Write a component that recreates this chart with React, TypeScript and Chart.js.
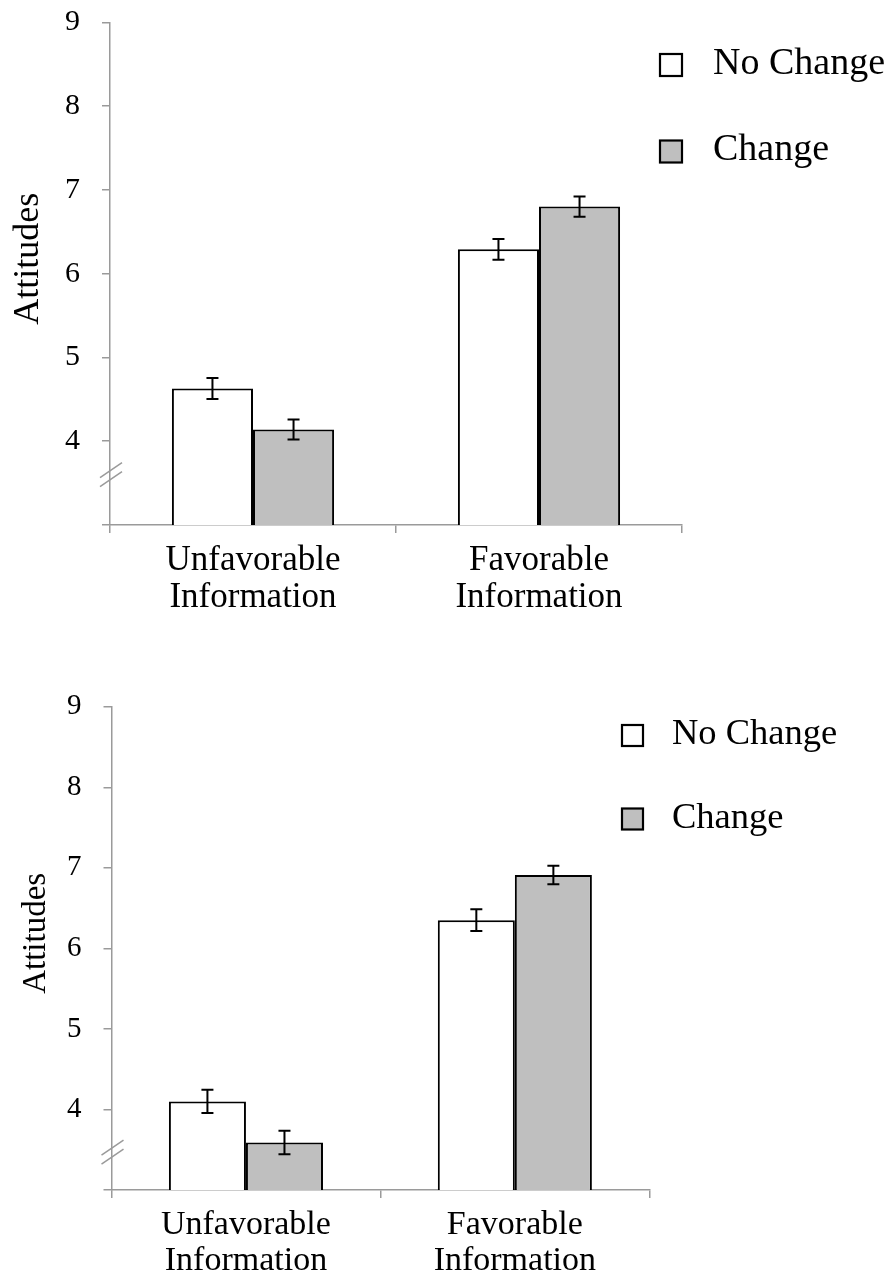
import React, { useEffect, useRef } from 'react';
import { Chart, registerables } from 'chart.js';

Chart.register(...registerables);

// ---------- data ----------
const categories = [
  ['Unfavorable', 'Information'],
  ['Favorable', 'Information'],
];
const seriesNames = ['No Change', 'Change'];
const yAxisTitle = 'Attitudes';
const yMin = 3;
const yMax = 9;
const yStep = 1;

// upper panel
const panel1NoChange = [4.63, 6.29];
const panel1Change = [4.14, 6.8];
const panel1NoChangeErr = [0.125, 0.125];
const panel1ChangeErr = [0.12, 0.12];

// lower panel
const panel2NoChange = [4.1, 6.35];
const panel2Change = [3.59, 6.91];
const panel2NoChangeErr = [0.145, 0.134];
const panel2ChangeErr = [0.145, 0.114];

// ---------- style ----------
const FONT = "'Liberation Serif', 'Times New Roman', serif";
const AXIS = '#9a9a9a';
const WHITE = '#ffffff';
const GREY = '#bfbfbf';
const EDGE = '#000000';

const errorBarPlugin = {
  id: 'errorBars',
  afterDatasetsDraw(chart: any) {
    const { ctx } = chart;
    const ys = chart.scales.y;
    ctx.save();
    ctx.strokeStyle = '#000';
    ctx.lineWidth = 2;
    chart.data.datasets.forEach((ds: any, i: number) => {
      const meta = chart.getDatasetMeta(i);
      meta.data.forEach((bar: any, j: number) => {
        const v = ds.data[j];
        const e = ds.errors[j];
        const yt = ys.getPixelForValue(v + e);
        const yb = ys.getPixelForValue(v - e);
        const x = bar.x;
        ctx.beginPath();
        ctx.moveTo(x, yt);
        ctx.lineTo(x, yb);
        ctx.moveTo(x - 6, yt);
        ctx.lineTo(x + 6, yt);
        ctx.moveTo(x - 6, yb);
        ctx.lineTo(x + 6, yb);
        ctx.stroke();
      });
    });
    ctx.restore();
  },
};

const legendPlugin = {
  id: 'boxLegend',
  afterDraw(chart: any, _args: any, opts: any) {
    const { ctx } = chart;
    ctx.save();
    chart.data.datasets.forEach((ds: any, i: number) => {
      const cy = opts.rows[i];
      ctx.fillStyle = ds.backgroundColor;
      ctx.strokeStyle = '#000';
      ctx.lineWidth = 2.2;
      const s = opts.box;
      ctx.fillRect(opts.boxX + 1, cy - s / 2 + 1, s - 2, s - 2);
      ctx.strokeRect(opts.boxX + 1, cy - s / 2 + 1, s - 2, s - 2);
      ctx.fillStyle = '#000';
      ctx.font = `${opts.fontSize}px ${FONT}`;
      ctx.textBaseline = 'middle';
      ctx.textAlign = 'left';
      ctx.fillText(ds.label, opts.textX, cy - 1);
    });
    ctx.restore();
  },
};

const breakPlugin = {
  id: 'axisBreak',
  afterDraw(chart: any, _args: any, opts: any) {
    const { ctx } = chart;
    const ys = chart.scales.y;
    const ax = chart.chartArea.left;
    const yc = ys.getPixelForValue(opts.value);
    ctx.save();
    ctx.strokeStyle = AXIS;
    ctx.lineWidth = 1.5;
    [-4.5, 4.5].forEach((off) => {
      ctx.beginPath();
      ctx.moveTo(ax - 10, yc + off + 7.5);
      ctx.lineTo(ax + 12, yc + off - 7.5);
      ctx.stroke();
    });
    ctx.restore();
  },
};

const yTitlePlugin = {
  id: 'yTitle',
  afterDraw(chart: any, _args: any, opts: any) {
    const { ctx, chartArea } = chart;
    const cy = (chartArea.top + chartArea.bottom) / 2 + opts.dy;
    ctx.save();
    ctx.translate(opts.x, cy);
    ctx.rotate(-Math.PI / 2);
    ctx.fillStyle = '#000';
    ctx.font = `${opts.fontSize}px ${FONT}`;
    ctx.textAlign = 'center';
    ctx.textBaseline = 'alphabetic';
    ctx.fillText(opts.text, 0, 0);
    ctx.restore();
  },
};

type PanelCfg = {
  top: number;
  height: number;
  noChange: number[];
  change: number[];
  noChangeErr: number[];
  changeErr: number[];
  yAxisWidth: number;
  padTop: number;
  padRight: number;
  xAxisHeight: number;
  catPct: number;
  tickFont: number;
  labelFont: number;
  labelPad: number;
  titleFont: number;
  titleX: number;
  legendBoxX: number;
  legendTextX: number;
  legendRows: number[];
  legendFont: number;
  legendBox: number;
  breakValue: number;
};

const panels: PanelCfg[] = [
  {
    top: 0,
    height: 640,
    noChange: panel1NoChange,
    change: panel1Change,
    noChangeErr: panel1NoChangeErr,
    changeErr: panel1ChangeErr,
    yAxisWidth: 110,
    padTop: 22.3,
    padRight: 211,
    xAxisHeight: 115,
    catPct: 0.567,
    tickFont: 30,
    labelFont: 35,
    labelPad: 9,
    titleFont: 36,
    titleX: 38,
    legendBoxX: 659,
    legendTextX: 713,
    legendRows: [65, 151.5],
    legendFont: 38,
    legendBox: 24,
    breakValue: 3.6,
  },
  {
    top: 640,
    height: 642,
    noChange: panel2NoChange,
    change: panel2Change,
    noChangeErr: panel2NoChangeErr,
    changeErr: panel2ChangeErr,
    yAxisWidth: 111.5,
    padTop: 66.7,
    padRight: 243.7,
    xAxisHeight: 92,
    catPct: 0.573,
    tickFont: 29,
    labelFont: 34,
    labelPad: 9,
    titleFont: 33,
    titleX: 45,
    legendBoxX: 621,
    legendTextX: 672,
    legendRows: [95.5, 179],
    legendFont: 36.5,
    legendBox: 23,
    breakValue: 3.47,
  },
];

function Panel({ cfg }: { cfg: PanelCfg }) {
  const ref = useRef<HTMLCanvasElement | null>(null);
  useEffect(() => {
    if (!ref.current) return;
    const chart = new Chart(ref.current, {
      type: 'bar',
      data: {
        labels: categories as any,
        datasets: [
          {
            label: seriesNames[0],
            data: cfg.noChange,
            errors: cfg.noChangeErr,
            backgroundColor: WHITE,
            borderColor: EDGE,
            borderWidth: 2,
            categoryPercentage: cfg.catPct,
            barPercentage: 1,
          } as any,
          {
            label: seriesNames[1],
            data: cfg.change,
            errors: cfg.changeErr,
            backgroundColor: GREY,
            borderColor: EDGE,
            borderWidth: 2,
            categoryPercentage: cfg.catPct,
            barPercentage: 1,
          } as any,
        ],
      },
      options: {
        responsive: true,
        maintainAspectRatio: false,
        animation: false,
        devicePixelRatio: 1,
        layout: { padding: { left: 0, top: cfg.padTop, right: cfg.padRight, bottom: 0 } },
        plugins: {
          legend: { display: false },
          tooltip: { enabled: false },
          boxLegend: {
            boxX: cfg.legendBoxX,
            textX: cfg.legendTextX,
            rows: cfg.legendRows,
            fontSize: cfg.legendFont,
            box: cfg.legendBox,
          },
          axisBreak: { value: cfg.breakValue },
          yTitle: { text: yAxisTitle, fontSize: cfg.titleFont, x: cfg.titleX, dy: -15 },
        } as any,
        scales: {
          x: {
            type: 'category',
            offset: true,
            grid: {
              offset: true,
              drawOnChartArea: false,
              drawTicks: true,
              tickLength: 8,
              color: AXIS,
              lineWidth: 1.5,
            },
            border: { display: true, color: AXIS, width: 1.5 },
            ticks: {
              color: '#000',
              font: { family: FONT, size: cfg.labelFont, lineHeight: 1.07 },
              padding: cfg.labelPad,
              maxRotation: 0,
              autoSkip: false,
            },
            afterFit: (s: any) => {
              s.height = cfg.xAxisHeight;
              s.paddingLeft = 0;
              s.paddingRight = 0;
            },
          },
          y: {
            min: yMin,
            max: yMax,
            grid: {
              drawOnChartArea: false,
              drawTicks: true,
              tickLength: 8,
              color: AXIS,
              lineWidth: 1.5,
            },
            border: { display: true, color: AXIS, width: 1.5 },
            ticks: {
              stepSize: yStep,
              color: '#000',
              font: { family: FONT, size: cfg.tickFont },
              padding: 22,
              callback: (v: any) => (Number(v) === yMin ? '' : String(v)),
            },
            afterFit: (s: any) => {
              s.width = cfg.yAxisWidth;
              s.paddingTop = 0;
              s.paddingBottom = 0;
            },
          },
        },
      } as any,
      plugins: [errorBarPlugin, legendPlugin, breakPlugin, yTitlePlugin],
    });
    return () => chart.destroy();
  }, [cfg]);

  return (
    <div
      style={{
        position: 'absolute',
        left: 0,
        top: cfg.top,
        width: 893,
        height: cfg.height,
      }}
    >
      <canvas ref={ref} />
    </div>
  );
}

export default function App() {
  return (
    <div
      style={{
        position: 'absolute',
        left: 0,
        top: 0,
        width: 893,
        height: 1282,
        background: '#ffffff',
        overflow: 'hidden',
      }}
    >
      {panels.map((p, i) => (
        <Panel key={i} cfg={p} />
      ))}
    </div>
  );
}
